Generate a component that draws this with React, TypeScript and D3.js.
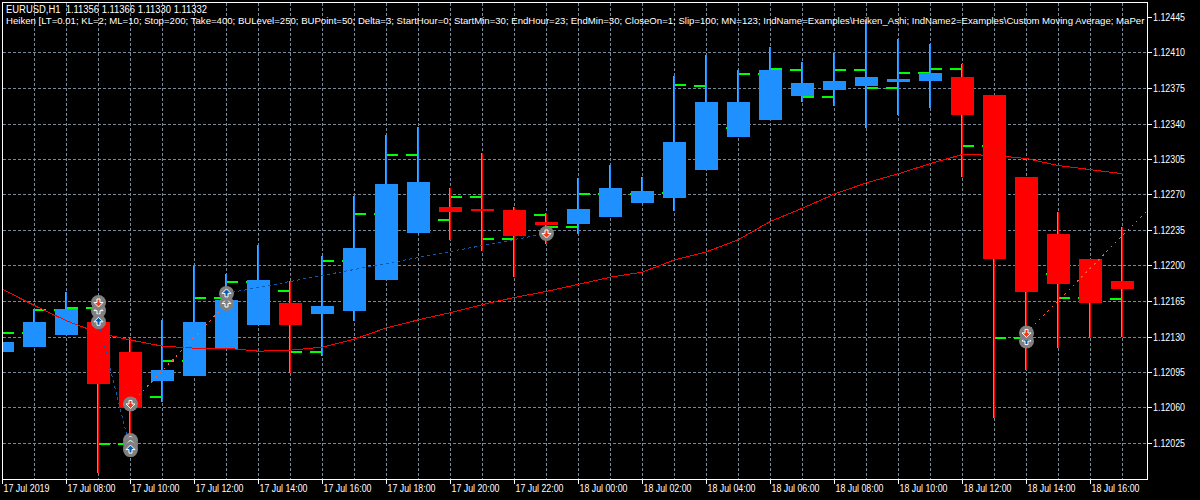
import React from 'react';
import * as d3 from 'd3';

const opens = [1.12120, 1.12134, 1.12157, 1.12159, 1.12025, 1.12071, 1.12106, 1.12168, 1.12184, 1.12175, 1.12115, 1.12205, 1.12251, 1.12309, 1.12245, 1.12268, 1.12227, 1.12250, 1.12238, 1.12271, 1.12271, 1.12272, 1.12377, 1.12336, 1.12389, 1.12393, 1.12367, 1.12393, 1.12375, 1.12390, 1.12394, 1.12318, 1.12129, 1.12192, 1.12168, 1.12167];
const highs = [1.12137, 1.12158, 1.12174, 1.12170, 1.12129, 1.12147, 1.12200, 1.12192, 1.12221, 1.12185, 1.12210, 1.12269, 1.12329, 1.12337, 1.12277, 1.12311, 1.12258, 1.12252, 1.12287, 1.12300, 1.12288, 1.12387, 1.12408, 1.12393, 1.12416, 1.12401, 1.12410, 1.12442, 1.12424, 1.12419, 1.12399, 1.12369, 1.12288, 1.12253, 1.12207, 1.12238];
const lows = [1.12113, 1.12120, 1.12132, 1.11996, 1.12019, 1.12066, 1.12092, 1.12118, 1.12142, 1.12095, 1.12111, 1.12146, 1.12186, 1.12233, 1.12226, 1.12215, 1.12189, 1.12222, 1.12232, 1.12248, 1.12262, 1.12254, 1.12295, 1.12327, 1.12344, 1.12362, 1.12358, 1.12336, 1.12349, 1.12356, 1.12288, 1.12050, 1.12097, 1.12119, 1.12129, 1.12130];
const closes = [1.12134, 1.12157, 1.12159, 1.12025, 1.12071, 1.12106, 1.12168, 1.12184, 1.12175, 1.12115, 1.12205, 1.12251, 1.12309, 1.12245, 1.12268, 1.12227, 1.12250, 1.12238, 1.12271, 1.12271, 1.12272, 1.12378, 1.12336, 1.12389, 1.12394, 1.12367, 1.12393, 1.12375, 1.12390, 1.12394, 1.12318, 1.12129, 1.12192, 1.12168, 1.12167, 1.12181];
const haOpens = [1.12115, 1.12120, 1.12132, 1.12145, 1.12115, 1.12087, 1.12092, 1.12118, 1.12142, 1.12164, 1.12153, 1.12156, 1.12186, 1.12233, 1.12258, 1.12256, 1.12255, 1.12243, 1.12241, 1.12248, 1.12262, 1.12267, 1.12295, 1.12327, 1.12344, 1.12368, 1.12374, 1.12377, 1.12381, 1.12382, 1.12386, 1.12369, 1.12288, 1.12232, 1.12207, 1.12185];
const haCloses = [1.12125, 1.12145, 1.12158, 1.12084, 1.12060, 1.12097, 1.12145, 1.12166, 1.12186, 1.12142, 1.12161, 1.12218, 1.12281, 1.12283, 1.12253, 1.12254, 1.12230, 1.12240, 1.12256, 1.12277, 1.12274, 1.12322, 1.12362, 1.12362, 1.12393, 1.12380, 1.12382, 1.12386, 1.12384, 1.12390, 1.12349, 1.12207, 1.12174, 1.12182, 1.12164, 1.12177];
const maValues = [1.12177, 1.12161, 1.12146, 1.12134, 1.12127, 1.12121, 1.12119, 1.12119, 1.12116, 1.12117, 1.12120, 1.12128, 1.12139, 1.12147, 1.12154, 1.12162, 1.12169, 1.12175, 1.12182, 1.12189, 1.12194, 1.12206, 1.12214, 1.12226, 1.12244, 1.12257, 1.12271, 1.12282, 1.12291, 1.12301, 1.12310, 1.12309, 1.12306, 1.12299, 1.12295, 1.12291];

const priceTicks = [1.12445, 1.12410, 1.12375, 1.12340, 1.12305, 1.12270, 1.12235, 1.12200, 1.12165, 1.12130, 1.12095, 1.12060, 1.12025];
const timeLabels = ['17 Jul 2019', '17 Jul 08:00', '17 Jul 10:00', '17 Jul 12:00', '17 Jul 14:00', '17 Jul 16:00', '17 Jul 18:00', '17 Jul 20:00', '17 Jul 22:00', '18 Jul 00:00', '18 Jul 02:00', '18 Jul 04:00', '18 Jul 06:00', '18 Jul 08:00', '18 Jul 10:00', '18 Jul 12:00', '18 Jul 14:00', '18 Jul 16:00'];

// bar index + price of each trade marker
const buyTrades: [number, number, number, number][] = [[3, 1.12145, 4, 1.12019], [7, 1.12173, 17, 1.12232]];
const sellTrades: [number, number, number, number][] = [[4, 1.12064, 7, 1.12163], [32, 1.12134, 36, 1.12262]];
const hollowMarks: [number, number][] = [[3, 1.12156], [4, 1.12028], [4, 1.12024], [7, 1.12163]];
const upMarks: [number, number][] = [[3, 1.12145], [4, 1.12019], [7, 1.12173], [32, 1.12126]];
const downMarks: [number, number][] = [[3, 1.12164], [4, 1.12064], [17, 1.12232], [32, 1.12134]];

const header = 'EURUSD,H1  1.11356 1.11366 1.11330 1.11332';
const params = 'Heiken [LT=0.01; KL=2; ML=10; Stop=200; Take=400; BULevel=250; BUPoint=50; Delta=3; StartHour=0; StartMin=30; EndHour=23; EndMin=30; CloseOn=1; Slip=100; MN=123; IndName=Examples\\Heiken_Ashi; IndName2=Examples\\Custom Moving Average; MaPer';

const GRID = '#778899';
const BULL = '#1e90ff';
const BEAR = '#ff0000';
const BAR = '#00ff00';
const FONT = '"Liberation Sans", Arial, sans-serif';

const left = 2, right = 1147, top = 2, bottom = 479;

const x = d3.scaleLinear().domain([0, 36]).range([2, 1154]);
const y = d3.scaleLinear().domain([1.12025, 1.12445]).range([443.5, 17.5]);
const py = (p: number) => Math.round(y(p));

const arrowUp = 'M0,-4.5 L4.5,0 L1.5,0 L1.5,3.5 L-1.5,3.5 L-1.5,0 L-4.5,0 Z';

const Marker: React.FC<{ i: number; price: number; kind: 'up' | 'down' | 'hollow' }> = ({ i, price, kind }) => {
  const fill = kind === 'up' ? '#0b5cad' : kind === 'down' ? '#f03c14' : '#808080';
  return (
    <g transform={`translate(${x(i) + 0.5},${y(price)})`}>
      <circle r={7.5} fill="#808080" />
      <path d={arrowUp} fill={fill} stroke="#fff" strokeWidth={1} transform={kind === 'down' ? 'rotate(180)' : undefined} />
    </g>
  );
};

const App: React.FC = () => {
  const bars = d3.range(opens.length);
  const maLine = d3.line<number>().x((_, i) => x(i) + 0.5).y(d => y(d));

  return (
    <svg width={1200} height={500} style={{ position: 'fixed', left: 0, top: 0, display: 'block', background: '#000' }}>
      <defs>
        <clipPath id="plot">
          <rect x={left + 1} y={top + 1} width={right - left - 1} height={bottom - top - 1} />
        </clipPath>
      </defs>

      <g clipPath="url(#plot)">
        <g stroke={GRID} strokeWidth={1} strokeDasharray="3,2" shapeRendering="crispEdges">
          {priceTicks.slice(1).map(p => (
            <line key={p} x1={left + 1} x2={right} y1={Math.floor(y(p)) + 0.5} y2={Math.floor(y(p)) + 0.5} />
          ))}
          {bars.slice(1).map(i => (
            <line key={i} x1={x(i) + 0.5} x2={x(i) + 0.5} y1={top + 1} y2={bottom} />
          ))}
        </g>

        <g shapeRendering="crispEdges">
          {bars.map(i => {
            const c = x(i);
            const up = haCloses[i] >= haOpens[i];
            const bodyTop = py(Math.max(haOpens[i], haCloses[i]));
            const bodyBottom = py(Math.min(haOpens[i], haCloses[i]));
            return (
              <g key={i}>
                <rect x={c - 1} y={py(highs[i])} width={1} height={py(lows[i]) - py(highs[i])} fill={BAR} />
                <rect x={c - 12} y={py(opens[i]) - 1} width={11} height={2} fill={BAR} />
                <rect x={c + 1} y={py(closes[i]) - 1} width={11} height={2} fill={BAR} />
                <rect x={c} y={py(highs[i])} width={1} height={py(lows[i]) - py(highs[i])} fill={up ? BULL : BEAR} />
                <rect x={c - 11} y={bodyTop} width={23} height={bodyBottom - bodyTop} fill={up ? BULL : BEAR} />
              </g>
            );
          })}
        </g>

        <path d={maLine(maValues) ?? ''} fill="none" stroke={BEAR} strokeWidth={1} shapeRendering="crispEdges" />

        {buyTrades.map(([a, pa, b, pb]) => (
          <line key={a} x1={x(a) + 0.5} y1={y(pa)} x2={x(b) + 0.5} y2={y(pb)} stroke="#0b5cad" strokeWidth={1} strokeDasharray="3,3" shapeRendering="crispEdges" />
        ))}
        {sellTrades.map(([a, pa, b, pb]) => (
          <line key={a} x1={x(a) + 0.5} y1={y(pa)} x2={x(b) + 0.5} y2={y(pb)} stroke="#ff5a30" strokeWidth={1} strokeDasharray="2,4" shapeRendering="crispEdges" />
        ))}

        {hollowMarks.map(([i, p]) => <Marker key={`h${i}${p}`} i={i} price={p} kind="hollow" />)}
        {upMarks.map(([i, p]) => <Marker key={`u${i}${p}`} i={i} price={p} kind="up" />)}
        {downMarks.map(([i, p]) => <Marker key={`d${i}${p}`} i={i} price={p} kind="down" />)}
      </g>

      <rect x={left + 0.5} y={top + 0.5} width={right - left} height={bottom - top} fill="none" stroke="#fff" strokeWidth={1} shapeRendering="crispEdges" />

      <g fontFamily={FONT} fontSize={10} fill="#fff">
        <text x={6} y={13} xmlSpace="preserve" textLength={201} lengthAdjust="spacingAndGlyphs">{header}</text>
        <text x={6} y={24} fontSize={9.6}>{params}</text>

        {priceTicks.map(p => (
          <g key={p} transform={`translate(0,${Math.floor(y(p)) + 0.5})`}>
            <line x1={right + 1} x2={right + 5} stroke="#fff" shapeRendering="crispEdges" />
            <text x={right + 6} y={3.5} textLength={32} lengthAdjust="spacingAndGlyphs">{p.toFixed(5)}</text>
          </g>
        ))}

        {timeLabels.map((t, k) => (
          <g key={t} transform={`translate(${x(k * 2) + 0.5},0)`}>
            <line y1={bottom + 1} y2={bottom + 5} stroke="#fff" shapeRendering="crispEdges" />
            <text x={1} y={492} textLength={k === 0 ? 46 : 48} lengthAdjust="spacingAndGlyphs">{t}</text>
          </g>
        ))}
      </g>
    </svg>
  );
};

export default App;
